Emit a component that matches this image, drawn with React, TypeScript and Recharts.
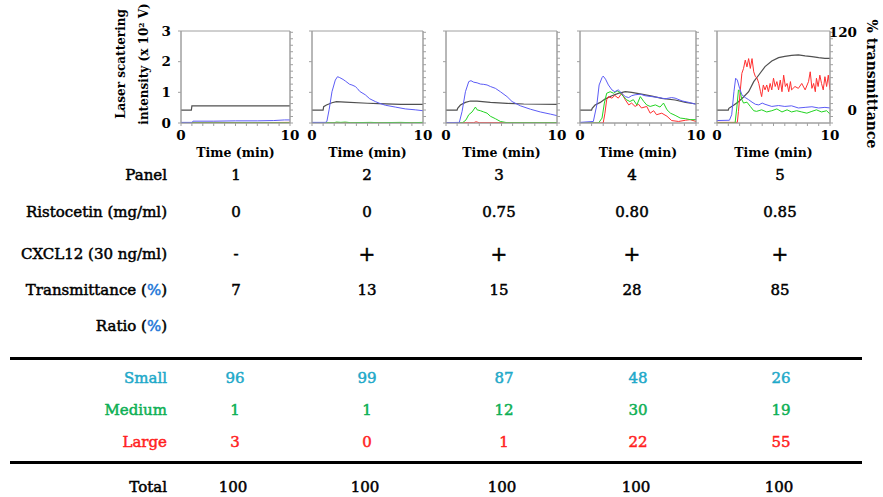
import React from 'react';
import { LineChart, Line, XAxis, YAxis, ReferenceArea } from 'recharts';

type Pt = [number, number];

// ---------- table data ----------
const panelLabels = ['1', '2', '3', '4', '5'];
const ristocetin = ['0', '0', '0.75', '0.80', '0.85'];
const cxcl12 = ['-', '+', '+', '+', '+'];
const transmittance = ['7', '13', '15', '28', '85'];
const smallRatio = [96, 99, 87, 48, 26];
const mediumRatio = [1, 1, 12, 30, 19];
const largeRatio = [3, 0, 1, 22, 55];
const totalRatio = [100, 100, 100, 100, 100];

// ---------- trace data (time min, laser scattering x10^2 V) ----------
const p1Blue: Pt[] = [[0, 0.02], [1, 0.02], [1.1, 0.06], [3, 0.06], [5, 0.07], [7, 0.07], [8.5, 0.08], [9.5, 0.1], [10, 0.1]];
const p1Green: Pt[] = [[0, 0.005], [10, 0.005]];
const p1Red: Pt[] = [[0, 0.01], [3, 0.02], [6, 0.01], [10, 0.02]];
const p1Trans: Pt[] = [[0, 0], [0.95, 0], [1.0, 6.5], [10, 6.5]];

const p2Blue: Pt[] = [[0, 0.02], [1.2, 0.02], [1.34, 0.05], [1.55, 0.45], [1.8, 1.02], [2.1, 1.4], [2.3, 1.51], [2.5, 1.48], [2.8, 1.42], [3.0, 1.37], [3.4, 1.26], [3.6, 1.24], [3.9, 1.19], [4.1, 1.12], [4.3, 1.03], [4.8, 0.92], [5.2, 0.79], [5.7, 0.7], [6.1, 0.64], [6.6, 0.58], [7.5, 0.52], [8.4, 0.46], [9.3, 0.43], [10, 0.4]];
const p2Green: Pt[] = [[0, 0.01], [2, 0.01], [2.2, 0.03], [2.6, 0.02], [3, 0.03], [3.5, 0.01], [5.3, 0.02], [6, 0.01], [8, 0.02], [9, 0.01], [10, 0.02]];
const p2Red: Pt[] = [[0, 0.005], [10, 0.005]];
const p2Trans: Pt[] = [[0, 0], [1.0, 0], [1.05, 5.2], [1.3, 7.7], [1.8, 11.3], [2.2, 12.9], [3, 12.1], [5, 10.5], [6, 9.8], [8, 8.8], [10, 8.8]];

const p3Blue: Pt[] = [[0, 0.01], [1.2, 0.02], [1.45, 0.38], [1.75, 1.02], [2.05, 1.35], [2.25, 1.38], [2.5, 1.33], [2.8, 1.31], [3.1, 1.27], [3.4, 1.26], [3.7, 1.24], [4.0, 1.19], [4.45, 1.13], [4.9, 1.02], [5.5, 0.86], [5.95, 0.7], [6.7, 0.56], [7.6, 0.45], [8.5, 0.36], [9.4, 0.29], [10, 0.24]];
const p3Green: Pt[] = [[0, 0], [1.5, 0.01], [1.8, 0.1], [2.05, 0.27], [2.35, 0.36], [2.65, 0.52], [2.8, 0.43], [3.1, 0.4], [3.4, 0.36], [3.7, 0.32], [4.0, 0.22], [4.45, 0.14], [4.9, 0.05], [5.5, 0.01], [10, 0.01]];
const p3Red: Pt[] = [[0, 0.01], [2.5, 0.01], [2.7, 0.04], [3, 0.01], [10, 0.01]];
const p3Trans: Pt[] = [[0, 0], [1.0, 0], [1.05, 2.6], [1.3, 7.7], [1.75, 11.8], [2.2, 13.9], [2.8, 13.9], [4, 11.8], [5.5, 10.3], [7, 9.3], [10, 8.8]];

const p4Blue: Pt[] = [[0, 0.02], [1.15, 0.05], [1.45, 0.59], [1.65, 1.24], [1.9, 1.48], [2.0, 1.53], [2.2, 1.43], [2.45, 1.24], [2.75, 1.08], [3.0, 1.02], [3.3, 1.08], [3.6, 0.97], [3.9, 0.86], [4.2, 0.83], [4.45, 0.89], [4.75, 0.92], [5.2, 0.94], [5.6, 0.89], [6.2, 0.86], [6.8, 0.83], [7.35, 0.79], [7.9, 0.83], [8.2, 0.81], [8.8, 0.72], [9.4, 0.67], [10, 0.61]];
const p4Green: Pt[] = [[0, 0], [1.6, 0], [1.9, 0.16], [2.1, 0.65], [2.3, 0.97], [2.6, 1.02], [2.9, 0.97], [3.2, 1.05], [3.45, 0.99], [3.75, 0.86], [4.0, 0.76], [4.3, 0.7], [4.6, 0.76], [4.9, 0.59], [5.2, 0.86], [5.5, 0.7], [5.75, 0.59], [6.05, 0.54], [6.5, 0.59], [6.9, 0.52], [7.2, 0.65], [7.5, 0.43], [7.8, 0.32], [8.2, 0.25], [8.65, 0.16], [9.1, 0.14], [9.5, 0.11], [10, 0.11]];
const p4Red: Pt[] = [[0, 0], [2.0, 0], [2.15, 0.32], [2.3, 0.76], [2.45, 0.86], [2.75, 0.81], [3.0, 0.9], [3.3, 0.81], [3.6, 0.97], [3.9, 0.76], [4.2, 0.59], [4.45, 0.65], [4.75, 0.54], [5.05, 0.61], [5.3, 0.49], [5.75, 0.54], [6.05, 0.32], [6.35, 0.4], [6.6, 0.27], [7.05, 0.32], [7.5, 0.22], [7.9, 0.08], [8.5, 0.05], [9.1, 0.09], [9.5, 0.11], [10, 0.05]];
const p4Trans: Pt[] = [[0, 0], [1.0, 0], [1.05, 2.6], [1.3, 7.7], [1.75, 11.8], [2.15, 16.9], [2.75, 22.1], [3.3, 25.7], [3.9, 28.3], [4.45, 27.3], [5.3, 24.7], [6.2, 21.6], [7.05, 18.0], [8.2, 15.5], [9.1, 11.8], [10, 9.3]];

const p5Blue: Pt[] = [[0, 0.08], [1.1, 0.09], [1.3, 0.27], [1.5, 1.02], [1.65, 1.46], [1.8, 1.4], [2.0, 1.13], [2.2, 0.92], [2.5, 0.83], [2.8, 0.76], [3.1, 0.68], [3.4, 0.61], [3.7, 0.59], [4.0, 0.65], [4.25, 0.61], [4.85, 0.54], [5.45, 0.57], [6.0, 0.54], [6.6, 0.56], [7.2, 0.49], [7.8, 0.51], [8.4, 0.53], [9.0, 0.49], [9.55, 0.51], [10, 0.49]];
const p5Green: Pt[] = [[0, 0], [1.6, 0], [1.75, 0.49], [1.9, 1.08], [2.05, 1.02], [2.2, 0.76], [2.35, 0.65], [2.65, 0.68], [2.95, 0.54], [3.25, 0.4], [3.5, 0.38], [3.95, 0.43], [4.4, 0.36], [4.85, 0.4], [5.3, 0.46], [5.75, 0.36], [6.2, 0.43], [6.6, 0.36], [7.05, 0.4], [7.5, 0.36], [7.95, 0.32], [8.4, 0.38], [8.8, 0.43], [9.25, 0.36], [9.7, 0.4], [10, 0.29]];
const p5Red: Pt[] = [[0, 0.02], [1.8, 0.02], [1.9, 0.38], [2.05, 1.02], [2.2, 1.62], [2.35, 1.78], [2.5, 2.05], [2.65, 1.83], [2.8, 2.1], [2.95, 1.78], [3.1, 2.1], [3.25, 1.67], [3.4, 1.51], [3.55, 1.46], [3.7, 1.29], [3.85, 1.02], [3.95, 0.86], [4.1, 1.24], [4.25, 1.08], [4.4, 1.24], [4.55, 1.02], [4.7, 1.29], [4.85, 1.08], [5.0, 1.46], [5.15, 1.19], [5.3, 1.35], [5.45, 1.08], [5.6, 1.4], [5.75, 1.02], [5.9, 1.56], [6.05, 1.19], [6.2, 1.29], [6.35, 1.02], [6.5, 1.35], [6.6, 1.08], [6.9, 1.19], [7.2, 1.13], [7.5, 1.29], [7.8, 1.08], [8.1, 1.35], [8.25, 1.67], [8.4, 1.13], [8.55, 1.29], [8.7, 1.02], [8.8, 1.46], [8.95, 1.19], [9.1, 1.56], [9.25, 1.29], [9.4, 1.08], [9.55, 1.51], [9.7, 1.19], [9.85, 1.56], [10, 1.08]];
const p5Trans: Pt[] = [[0, 0], [1.0, 0], [1.05, 2.6], [1.5, 7.7], [1.9, 12.9], [2.35, 20.1], [2.8, 28.3], [3.25, 43.8], [3.7, 54.1], [4.25, 67], [4.85, 75.7], [5.45, 80.9], [6.0, 82.9], [6.6, 84.5], [7.2, 85], [7.8, 83.5], [8.4, 82.4], [9.0, 80.9], [9.55, 79.8], [10, 79.8]];

const timeTicks = [0, 1, 2, 3, 4, 5, 6, 7, 8, 9, 10];
const leftTicks = [0, 1, 2, 3];
const rightTicks = [-20, -10, 0, 10, 20, 30, 40, 50, 60, 70, 80, 90, 100, 110, 120];

const panels = [
  { blue: p1Blue, green: p1Green, red: p1Red, trans: p1Trans },
  { blue: p2Blue, green: p2Green, red: p2Red, trans: p2Trans },
  { blue: p3Blue, green: p3Green, red: p3Red, trans: p3Trans },
  { blue: p4Blue, green: p4Green, red: p4Red, trans: p4Trans },
  { blue: p5Blue, green: p5Green, red: p5Red, trans: p5Trans },
];

// ---------- layout ----------
const boxes = [
  { left: 181, width: 109 },
  { left: 312, width: 111 },
  { left: 446, width: 111 },
  { left: 580, width: 116 },
  { left: 717, width: 113 },
];
const PLOT_TOP = 31;
const PLOT_H = 92;
const SIDE = 30;
const FONT = '"DejaVu Serif", serif';
const BLUE = '#5c5cf6';
const GREEN = '#22d422';
const RED = '#ff3030';
const TRANS = '#505050';
const AXIS = '#a0a0a0';

const toRows = (pts: Pt[]) => pts.map(([t, v]) => ({ t, v }));

function Panel({ idx }: { idx: number }) {
  const box = boxes[idx];
  const s = panels[idx];
  const W = box.width + SIDE * 2;
  const H = PLOT_H + 10 + 45;
  const tickStyle = { fill: '#000', fontSize: 13.5, fontWeight: 'bold' as const, fontFamily: FONT };
  const rightTick = (props: any) => {
    const { x, y, payload } = props;
    if (idx !== 4 || (payload.value !== 0 && payload.value !== 120)) return <g />;
    return (
      <text x={x + 22} y={y} textAnchor="end" dominantBaseline="central" style={tickStyle}>
        {payload.value}
      </text>
    );
  };
  return (
    <div style={{ position: 'absolute', left: box.left - SIDE, top: PLOT_TOP - 10 }}>
      <LineChart width={W} height={H} margin={{ top: 10, right: 0, bottom: 0, left: 0 }}>
        <XAxis
          type="number"
          dataKey="t"
          domain={[0, 10]}
          ticks={timeTicks}
          interval={0}
          allowDataOverflow
          height={45}
          tickSize={3}
          tickMargin={4}
          stroke={AXIS}
          tick={tickStyle}
          tickFormatter={(v: number) => (v === 0 || v === 10 ? String(v) : '')}
        />
        <YAxis
          yAxisId="l"
          type="number"
          domain={[0, 3]}
          ticks={leftTicks}
          allowDataOverflow
          width={SIDE}
          tickSize={3}
          tickMargin={7}
          stroke={AXIS}
          tick={tickStyle}
          tickFormatter={(v: number) => (idx === 0 ? String(v) : '')}
        />
        <YAxis
          yAxisId="r"
          orientation="right"
          type="number"
          domain={[-20, 122]}
          ticks={rightTicks}
          interval={0}
          allowDataOverflow
          width={SIDE}
          tickSize={3}
          tickMargin={2}
          stroke={AXIS}
          tick={rightTick}
        />
        <ReferenceArea yAxisId="l" x1={0} x2={10} y1={0} y2={3} fill="none" stroke={AXIS} strokeWidth={1} ifOverflow="visible" />
        <Line yAxisId="r" data={toRows(s.trans)} dataKey="v" type="linear" stroke={TRANS} strokeWidth={1.2} dot={false} isAnimationActive={false} />
        <Line yAxisId="l" data={toRows(s.red)} dataKey="v" type="linear" stroke={RED} strokeWidth={1} dot={false} isAnimationActive={false} />
        <Line yAxisId="l" data={toRows(s.green)} dataKey="v" type="linear" stroke={GREEN} strokeWidth={1} dot={false} isAnimationActive={false} />
        <Line yAxisId="l" data={toRows(s.blue)} dataKey="v" type="linear" stroke={BLUE} strokeWidth={1} dot={false} isAnimationActive={false} />
      </LineChart>
    </div>
  );
}

const textBase: React.CSSProperties = {
  position: 'absolute',
  fontFamily: FONT,
  fontSize: 15,
  whiteSpace: 'nowrap',
  WebkitTextStroke: '0.5px currentColor',
  lineHeight: 1,
};

const Cell = ({ x, y, color = '#000', children }: { x: number; y: number; color?: string; children: React.ReactNode }) => (
  <div style={{ ...textBase, left: x, top: y, transform: 'translate(-50%, -50%)', color }}>{children}</div>
);

const RowLabel = ({ y, color = '#000', children }: { y: number; color?: string; children: React.ReactNode }) => (
  <div style={{ ...textBase, left: 0, width: 167, top: y, transform: 'translateY(-50%)', textAlign: 'right', color }}>{children}</div>
);

const Pct = () => (
  <span>
    (<span style={{ color: '#1f78d8' }}>%</span>)
  </span>
);

const topCols = [236, 367, 499, 632, 780];
const botCols = [235, 367, 504, 638, 781];
const SMALL = '#1fa9c9';
const MEDIUM = '#0eb055';
const LARGE = '#ff1f1f';

export default function App() {
  return (
    <div style={{ position: 'absolute', left: 0, top: 0, width: 883, height: 497, background: '#fff', overflow: 'hidden' }}>
      {boxes.map((_, i) => (
        <Panel key={i} idx={i} />
      ))}
      <svg width={883} height={497} style={{ position: 'absolute', left: 0, top: 0, pointerEvents: 'none' }}>
        <g style={{ fontFamily: FONT, fontWeight: 'bold', fontSize: 12 }}>
          <text x={121} y={64} textAnchor="middle" dominantBaseline="central" transform="rotate(-90 121 64)">
            Laser scattering
          </text>
          <text x={144} y={64} textAnchor="middle" dominantBaseline="central" transform="rotate(-90 144 64)">
            intensity (x 10² V)
          </text>
          <text x={872} y={84} textAnchor="middle" dominantBaseline="central" transform="rotate(90 872 84)" style={{ fontSize: 14 }}>
            % transmittance
          </text>
          {boxes.map((b, i) => (
            <text key={i} x={b.left + b.width / 2} y={152} textAnchor="middle" dominantBaseline="central" style={{ fontSize: 12.5 }}>
              Time (min)
            </text>
          ))}
        </g>
      </svg>

      <RowLabel y={175}>Panel</RowLabel>
      <RowLabel y={212}>Ristocetin (mg/ml)</RowLabel>
      <RowLabel y={254}>CXCL12 (30 ng/ml)</RowLabel>
      <RowLabel y={290}>
        Transmittance <Pct />
      </RowLabel>
      <RowLabel y={326}>
        Ratio <Pct />
      </RowLabel>
      {topCols.map((x, i) => (
        <React.Fragment key={i}>
          <Cell x={x} y={175}>{panelLabels[i]}</Cell>
          <Cell x={x} y={212}>{ristocetin[i]}</Cell>
          <Cell x={x} y={254}>
            <span style={{ fontSize: cxcl12[i] === '+' ? 20 : 15 }}>{cxcl12[i]}</span>
          </Cell>
          <Cell x={x} y={290}>{transmittance[i]}</Cell>
        </React.Fragment>
      ))}

      <div style={{ position: 'absolute', left: 10, top: 357, width: 852, height: 3, background: '#000' }} />
      <div style={{ position: 'absolute', left: 10, top: 461, width: 852, height: 3, background: '#000' }} />

      <RowLabel y={378} color={SMALL}>Small</RowLabel>
      <RowLabel y={410} color={MEDIUM}>Medium</RowLabel>
      <RowLabel y={442} color={LARGE}>Large</RowLabel>
      <RowLabel y={487}>Total</RowLabel>
      {botCols.map((x, i) => (
        <React.Fragment key={i}>
          <Cell x={x} y={378} color={SMALL}>{smallRatio[i]}</Cell>
          <Cell x={x} y={410} color={MEDIUM}>{mediumRatio[i]}</Cell>
          <Cell x={x} y={442} color={LARGE}>{largeRatio[i]}</Cell>
          <Cell x={x - 2} y={487}>{totalRatio[i]}</Cell>
        </React.Fragment>
      ))}
    </div>
  );
}
